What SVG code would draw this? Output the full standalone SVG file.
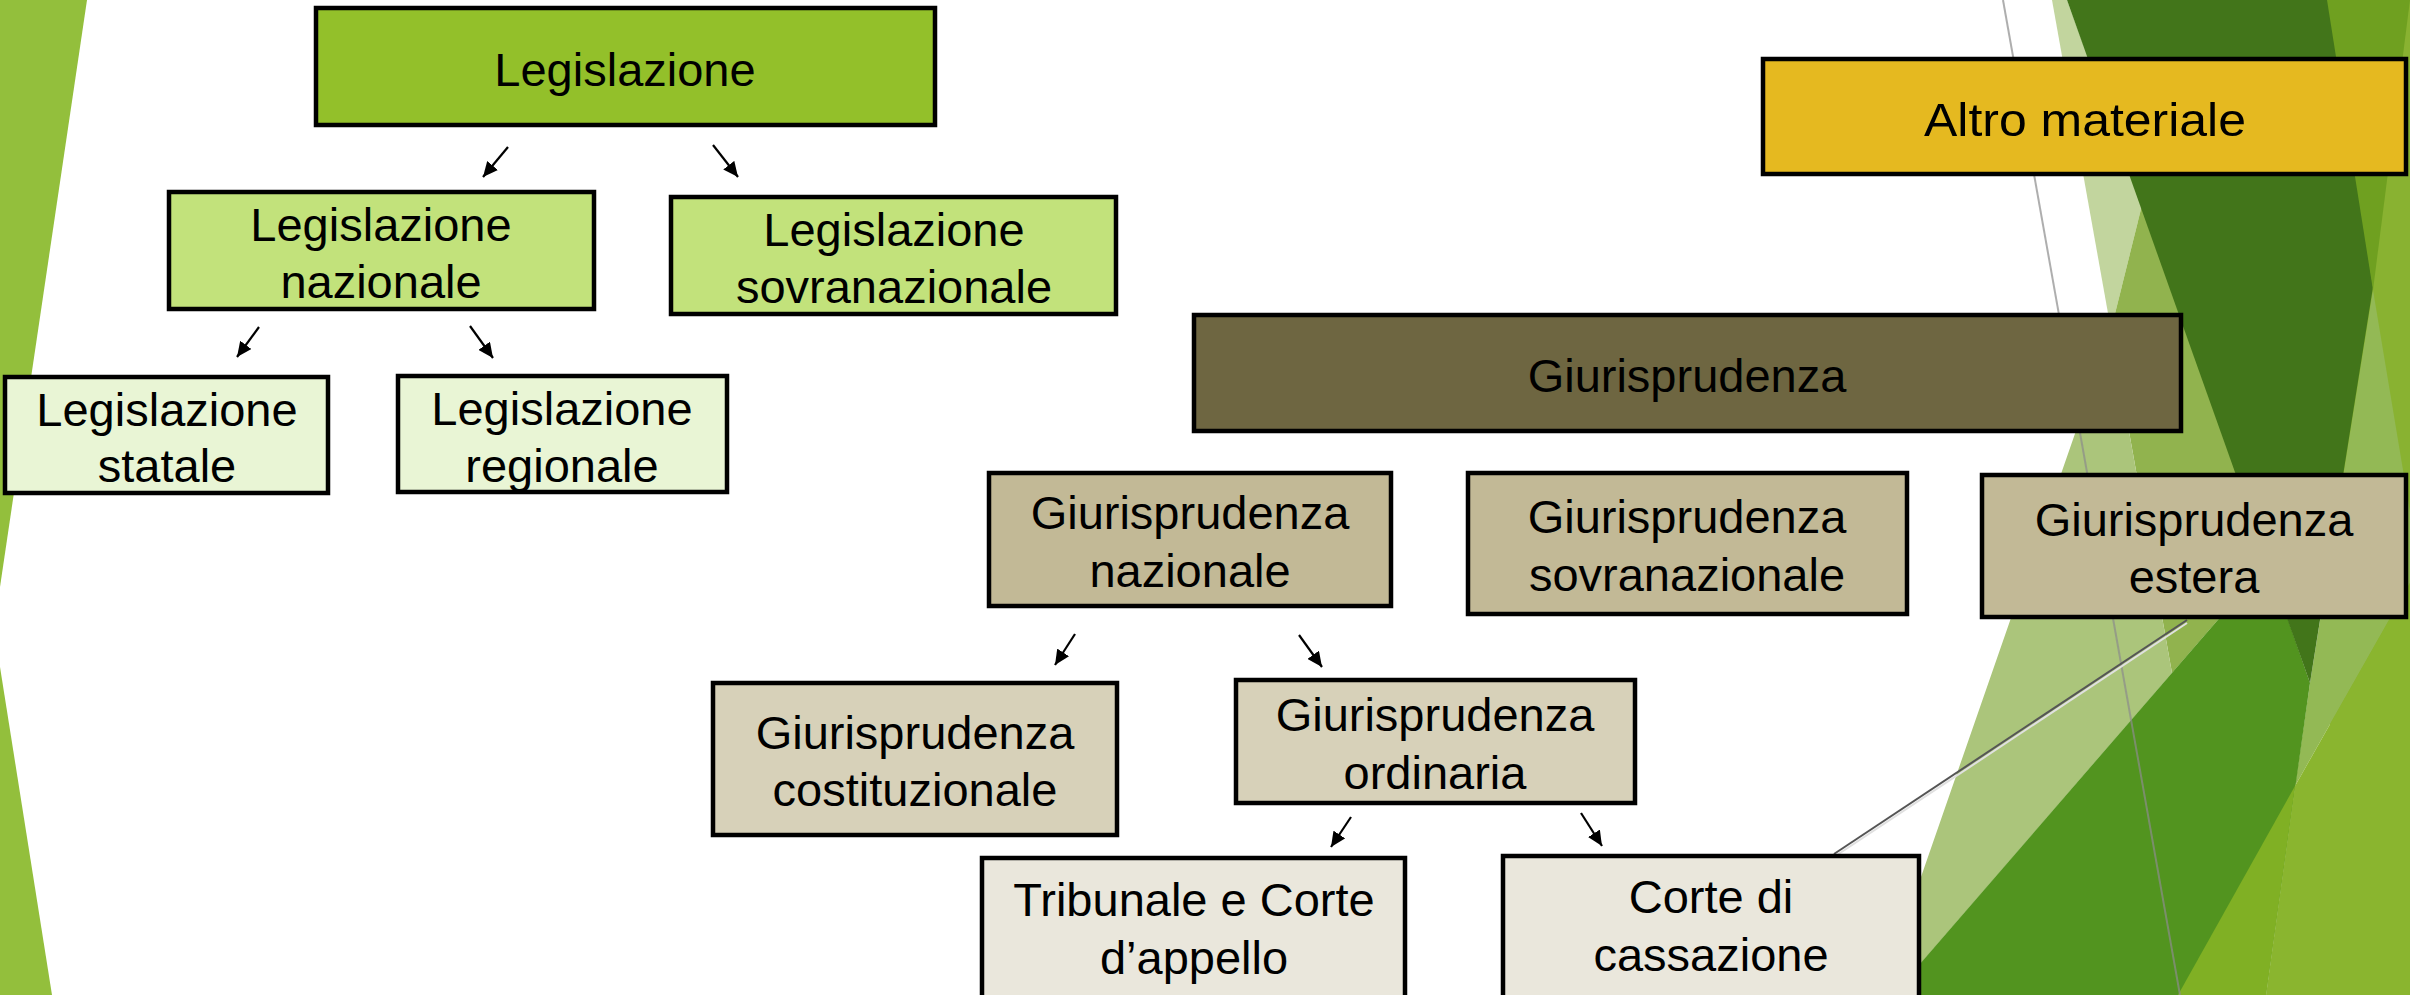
<svg xmlns="http://www.w3.org/2000/svg" width="2410" height="995" viewBox="0 0 2410 995">
<style>
.box{stroke:#000;stroke-width:4.5}
.t{font-family:"Liberation Sans",Arial,sans-serif;font-size:47px;fill:#000;text-anchor:middle}
.c1{fill:#93C02A}.c2{fill:#C2E27B}.c3{fill:#E9F5D5}
.g0{fill:#6E6641}.g1{fill:#C2B996}.g2{fill:#D7D1B9}.g3{fill:#EAE7DC}
.am{fill:#E5B920}
.arr{stroke:#000;stroke-width:2.2;fill:none}
</style>
<defs>
<marker id="ah" markerUnits="userSpaceOnUse" markerWidth="16" markerHeight="14" refX="15" refY="7" orient="auto">
<path d="M0,0 L15,7 L0,14 z" fill="#000"/>
</marker>
</defs>
<rect width="2410" height="995" fill="#fff"/>
<g id="background">
<polygon points="0,0 87,0 0,587" fill="#93BF3C"/>
<polygon points="0,667 52,995 0,995" fill="#93BF3C"/>
<polygon points="2330,0 2410,0 2410,995 2330,995" fill="#89B231"/>
<polygon points="2373,290 2410,512 2410,583 2295,786 2310,683" fill="#93B955"/>
<polygon points="2052,0 2067,0 2142,205 2111,330" fill="#C2D59E"/>
<polygon points="2142,205 2111,330 2172,673 2268,562" fill="#91B34E"/>
<polygon points="2111,330 2172,673 1921,963 1900,995 1880,995" fill="#ABC57B"/>
<polygon points="2268,562 2310,683 2266,995 1893,995" fill="#52941F"/>
<polygon points="2067,0 2330,0 2373,287 2310,683" fill="#42751A"/>
<polygon points="2327,0 2410,0 2373,290" fill="#6FA020"/>
<polygon points="2295,786 2178,995 2266,995" fill="#80B024"/>
<polygon points="2410,583 2295,786 2266,995 2410,995" fill="#8AB52F"/>
<line x1="2003" y1="0" x2="2180" y2="995" stroke="#8c8c8c" stroke-opacity="0.7" stroke-width="2"/>
</g>
<g id="connectors">
<line class="arr" x1="508" y1="147" x2="483" y2="177" marker-end="url(#ah)"/>
<line class="arr" x1="713" y1="145" x2="738" y2="177" marker-end="url(#ah)"/>
<line class="arr" x1="259" y1="327" x2="237" y2="357" marker-end="url(#ah)"/>
<line class="arr" x1="470" y1="326" x2="493" y2="358" marker-end="url(#ah)"/>
<line class="arr" x1="1075" y1="634" x2="1055" y2="665" marker-end="url(#ah)"/>
<line class="arr" x1="1299" y1="635" x2="1322" y2="667" marker-end="url(#ah)"/>
<line class="arr" x1="1351" y1="817" x2="1331" y2="847" marker-end="url(#ah)"/>
<line class="arr" x1="1581" y1="813" x2="1602" y2="846" marker-end="url(#ah)"/>
<line x1="2187" y1="621" x2="1834" y2="855" stroke="#e0e0e0" stroke-width="2" transform="translate(0,2)"/>
<line x1="2187" y1="620" x2="1834" y2="854" stroke="#555" stroke-width="2"/>
</g>
<g id="n-legislazione">
<rect class="box c1" x="316" y="8" width="619" height="117"/>
<text class="t" x="625" y="86">Legislazione</text>
</g>
<g id="n-leg-nazionale">
<rect class="box c2" x="169" y="192" width="425" height="117"/>
<text class="t"><tspan x="381" y="241">Legislazione</tspan><tspan x="381" y="298">nazionale</tspan></text>
</g>
<g id="n-leg-sovranazionale">
<rect class="box c2" x="671" y="197" width="445" height="117"/>
<text class="t"><tspan x="894" y="246">Legislazione</tspan><tspan x="894" y="303">sovranazionale</tspan></text>
</g>
<g id="n-leg-statale">
<rect class="box c3" x="5" y="377" width="323" height="116"/>
<text class="t"><tspan x="167" y="426">Legislazione</tspan><tspan x="167" y="482">statale</tspan></text>
</g>
<g id="n-leg-regionale">
<rect class="box c3" x="398" y="376" width="329" height="116"/>
<text class="t"><tspan x="562" y="425">Legislazione</tspan><tspan x="562" y="482">regionale</tspan></text>
</g>
<g id="n-altro">
<rect class="box am" x="1763" y="59" width="643" height="115"/>
<text class="t" x="2085" y="136" textLength="322" lengthAdjust="spacingAndGlyphs">Altro materiale</text>
</g>
<g id="n-giurisprudenza">
<rect class="box g0" x="1194" y="315" width="987" height="116"/>
<text class="t" x="1687" y="392">Giurisprudenza</text>
</g>
<g id="n-giur-nazionale">
<rect class="box g1" x="989" y="473" width="402" height="133"/>
<text class="t"><tspan x="1190" y="529">Giurisprudenza</tspan><tspan x="1190" y="587">nazionale</tspan></text>
</g>
<g id="n-giur-sovranazionale">
<rect class="box g1" x="1468" y="473" width="439" height="141"/>
<text class="t"><tspan x="1687" y="533">Giurisprudenza</tspan><tspan x="1687" y="591">sovranazionale</tspan></text>
</g>
<g id="n-giur-estera">
<rect class="box g1" x="1982" y="475" width="424" height="142"/>
<text class="t"><tspan x="2194" y="536">Giurisprudenza</tspan><tspan x="2194" y="593">estera</tspan></text>
</g>
<g id="n-giur-costituzionale">
<rect class="box g2" x="713" y="683" width="404" height="152"/>
<text class="t"><tspan x="915" y="749">Giurisprudenza</tspan><tspan x="915" y="806">costituzionale</tspan></text>
</g>
<g id="n-giur-ordinaria">
<rect class="box g2" x="1236" y="680" width="399" height="123"/>
<text class="t"><tspan x="1435" y="731">Giurisprudenza</tspan><tspan x="1435" y="789">ordinaria</tspan></text>
</g>
<g id="n-tribunale">
<rect class="box g3" x="982" y="858" width="423" height="160"/>
<text class="t"><tspan x="1194" y="916">Tribunale e Corte</tspan><tspan x="1194" y="974">d’appello</tspan></text>
</g>
<g id="n-cassazione">
<rect class="box g3" x="1503" y="856" width="416" height="160"/>
<text class="t"><tspan x="1711" y="913">Corte di</tspan><tspan x="1711" y="971">cassazione</tspan></text>
</g>
</svg>
